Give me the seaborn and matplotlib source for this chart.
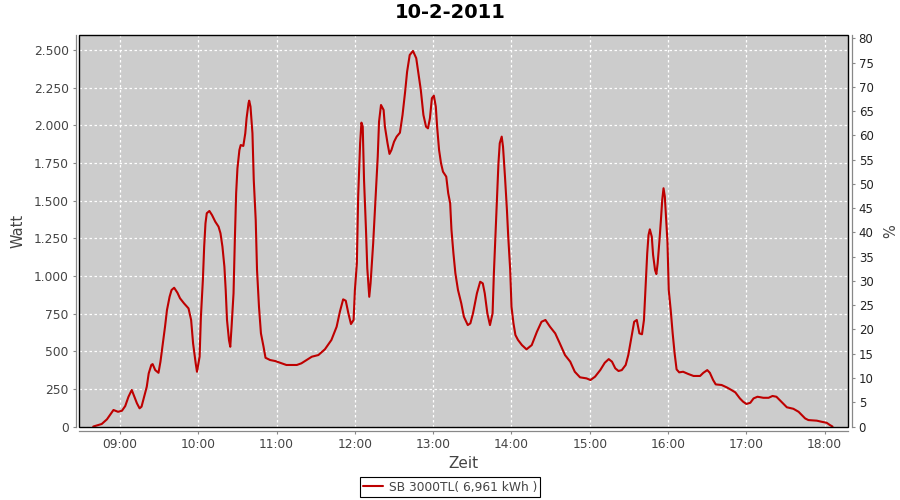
import matplotlib
matplotlib.use("Agg")
import matplotlib.pyplot as plt
import pandas as pd
import seaborn as sns
from matplotlib.patches import Rectangle

title = "10-2-2011"
series_label = "SB 3000TL( 6,961 kWh )"
x_label = "Zeit"
y_label = "Watt"
y2_label = "%"

times = ["08:39:30","08:46:00","08:50:00","08:55:00","08:58:30","09:01:30","09:04:00","09:06:30","09:09:00","09:10:30",
         "09:13:00","09:15:00","09:16:30","09:18:30","09:20:30","09:22:00","09:24:00","09:25:00","09:27:00","09:29:30",
         "09:31:00","09:32:30","09:34:30","09:36:00","09:38:00","09:39:30","09:41:30","09:44:00","09:46:00","09:49:00",
         "09:52:30","09:54:30","09:56:00","09:58:00","09:59:00","10:01:00","10:02:00","10:03:30","10:04:30","10:05:30",
         "10:06:30","10:08:30","10:10:30","10:13:00","10:15:30","10:17:00","10:18:30","10:20:00","10:21:00","10:22:00",
         "10:23:30","10:24:30","10:25:30","10:27:00","10:28:00","10:29:00","10:30:00","10:31:30","10:32:30","10:34:30",
         "10:36:00","10:37:00","10:38:30","10:39:00","10:40:00","10:41:30","10:42:30","10:44:00","10:45:00","10:46:30",
         "10:48:00","10:50:00","10:51:30","10:55:00","10:59:00","11:02:30","11:07:30","11:15:30","11:19:00","11:23:00",
         "11:27:00","11:32:00","11:37:00","11:42:00","11:46:00","11:48:30","11:51:00","11:53:00","11:55:00","11:57:00",
         "11:59:00","12:00:00","12:01:30","12:02:30","12:04:00","12:05:00","12:06:00","12:07:00","12:08:30","12:09:30",
         "12:11:00","12:12:00","12:14:00","12:16:00","12:17:30","12:18:30","12:20:00","12:22:00","12:23:00","12:25:00",
         "12:26:30","12:28:00","12:30:00","12:32:00","12:34:30","12:36:30","12:38:30","12:40:00","12:42:00","12:44:30",
         "12:47:00","12:48:30","12:50:30","12:52:30","12:54:30","12:56:00","12:57:30","12:59:00","13:00:30","13:02:00",
         "13:03:00","13:04:30","13:06:00","13:07:30","13:10:00","13:11:30","13:13:00","13:14:00","13:15:30","13:17:00",
         "13:19:00","13:21:30","13:23:30","13:26:30","13:28:30","13:30:30","13:33:30","13:36:00","13:38:00","13:39:30",
         "13:41:30","13:43:30","13:45:30","13:46:30","13:48:00","13:50:00","13:51:00","13:52:30","13:53:30","13:55:00",
         "13:56:30","13:57:30","13:59:00","14:00:00","14:01:30","14:03:00","14:05:00","14:08:00","14:11:30","14:15:30",
         "14:19:30","14:23:00","14:26:00","14:29:30","14:33:30","14:37:00","14:41:00","14:45:00","14:48:30","14:52:30",
         "14:57:30","15:00:30","15:04:00","15:08:00","15:11:30","15:14:30","15:17:00","15:19:30","15:22:00","15:24:30",
         "15:27:30","15:29:30","15:31:30","15:34:00","15:36:00","15:38:00","15:40:00","15:41:30","15:43:00","15:44:00",
         "15:45:00","15:46:00","15:47:30","15:48:30","15:50:00","15:51:00","15:52:00","15:53:30","15:54:30","15:55:30",
         "15:56:30","15:57:30","15:58:30","15:59:30","16:00:30","16:02:00","16:03:30","16:05:00","16:06:30","16:08:30",
         "16:11:30","16:15:30","16:19:30","16:24:30","16:27:00","16:30:00","16:32:00","16:34:30","16:36:30","16:41:00",
         "16:45:00","16:48:30","16:51:30","16:55:00","16:57:30","17:00:00","17:03:00","17:05:30","17:08:30","17:13:00",
         "17:17:00","17:20:00","17:23:00","17:25:30","17:28:30","17:31:00","17:36:00","17:40:00","17:42:30","17:45:00",
         "17:47:30","17:54:00","17:57:30","18:01:30","18:04:00","18:06:00"]

watt = [0,17,48,110,98,105,136,198,243,209,
        154,121,132,198,264,353,409,415,375,357,
        431,530,663,774,862,907,922,889,852,819,
        785,708,553,420,364,464,730,973,1195,1350,
        1417,1432,1405,1361,1328,1284,1195,1062,907,708,
        575,530,663,885,1239,1550,1716,1837,1870,1864,
        1948,2048,2148,2165,2125,1948,1638,1372,1040,796,
        619,530,457,442,435,424,409,409,420,442,
        464,475,513,575,663,763,845,836,752,681,
        708,907,1084,1527,1882,2019,1992,1638,1306,1051,
        862,951,1217,1550,1793,2025,2136,2103,1992,1882,
        1811,1837,1892,1926,1952,2070,2225,2357,2468,2495,
        2447,2357,2236,2070,1992,1981,2048,2181,2198,2125,
        1992,1837,1749,1693,1660,1550,1483,1306,1151,1018,
        907,819,730,674,686,752,885,962,951,885,
        752,674,752,1018,1328,1749,1882,1926,1859,1660,
        1439,1261,1040,796,686,608,575,541,513,541,
        630,696,708,663,619,553,475,431,364,327,
        320,309,331,375,424,448,431,387,369,375,
        409,475,575,696,708,619,613,708,973,1151,
        1272,1310,1261,1140,1040,1013,1084,1250,1372,1505,
        1583,1527,1383,1228,907,774,619,486,380,360,
        364,349,336,336,357,375,357,309,280,276,
        260,243,227,187,165,150,158,187,198,191,
        191,203,198,176,150,128,118,98,76,54,
        43,39,32,25,10,0]

x_tick_labels = ["09:00","10:00","11:00","12:00","13:00","14:00","15:00","16:00","17:00","18:00"]
watt_ticks = [0,250,500,750,1000,1250,1500,1750,2000,2250,2500]
pct_ticks = list(range(0, 81, 5))


def to_hours(s):
    parts = [int(p) for p in s.split(":")]
    while len(parts) < 3:
        parts.append(0)
    return parts[0] + parts[1] / 60 + parts[2] / 3600


df = pd.DataFrame({"Zeit": [to_hours(t) for t in times], "Watt": watt})

sns.set_theme(style="white")
plt.rcParams["font.family"] = ["DejaVu Sans"]

W, H = 900, 500
fig = plt.figure(figsize=(9, 5), dpi=100)
fig.patch.set_facecolor("white")
ax = fig.add_axes([79 / W, 1 - 427 / H, (848 - 79) / W, (427 - 34.7) / H])
ax.set_facecolor("#CCCCCC")

sns.lineplot(data=df, x="Zeit", y="Watt", ax=ax, color="#BE0000", lw=1.5,
             label=series_label, legend=False)

ax.set_xlim(8.4764, 18.2976)
ax.set_ylim(-3, 2603)
ax.set_xticks([to_hours(t) for t in x_tick_labels])
ax.set_xticklabels(x_tick_labels)
ax.set_yticks(watt_ticks)
ax.set_yticklabels([f"{v:,}".replace(",", ".") for v in watt_ticks])

ax.set_axisbelow(True)
ax.grid(True, color="white", linestyle=(0, (2, 2)), lw=0.9)

axis_gray = "#888888"
txt_gray = "#444444"
for side in ["top", "right"]:
    ax.spines[side].set_visible(False)
ax.spines["left"].set_position(("outward", 2.3))
ax.spines["bottom"].set_position(("outward", 3.2))
for side in ["left", "bottom"]:
    ax.spines[side].set_color(axis_gray)
    ax.spines[side].set_linewidth(0.9)
ax.tick_params(axis="both", direction="out", length=2.5, width=0.8, color=axis_gray,
               labelsize=8.8, labelcolor=txt_gray, pad=2.5, left=True, bottom=True)

ax.set_xlabel(x_label, fontsize=11, color=txt_gray, labelpad=3)
ax.set_ylabel(y_label, fontsize=10.5, color=txt_gray, labelpad=6)

ax2 = ax.twinx()
ax2.set_ylim(-0.1, 80.74)
ax2.set_yticks(pct_ticks)
ax2.set_yticklabels([str(v) for v in pct_ticks])
for side in ["top", "left", "bottom"]:
    ax2.spines[side].set_visible(False)
ax2.spines["right"].set_position(("outward", 2.7))
ax2.spines["right"].set_color(axis_gray)
ax2.spines["right"].set_linewidth(0.9)
ax2.tick_params(axis="y", direction="out", length=2.5, width=0.8, color=axis_gray,
                labelsize=8.5, labelcolor="#222222", pad=2.5, right=True)
ax2.set_ylabel(y2_label, fontsize=10.5, color=txt_gray, labelpad=7)
ax2.grid(False)

ax2.add_patch(Rectangle((0, 0), 1, 1, transform=ax.transAxes, fill=False,
                        ec="black", lw=1.0, clip_on=False, zorder=10))

fig.text(0.5, 1 - 12.5 / H, title, ha="center", va="center", fontsize=14,
         fontweight="bold", color="black")

handles, labels = ax.get_legend_handles_labels()
leg = fig.legend(handles, labels, loc="center", bbox_to_anchor=(0.5, 1 - 487 / H),
                 frameon=True, fancybox=False, edgecolor="black", framealpha=1,
                 fontsize=8.8, handlelength=1.6, borderpad=0.25, handletextpad=0.5,
                 borderaxespad=0)
leg.get_frame().set_linewidth(0.8)
for t in leg.get_texts():
    t.set_color(txt_gray)

fig.savefig("out.png", dpi=100)
